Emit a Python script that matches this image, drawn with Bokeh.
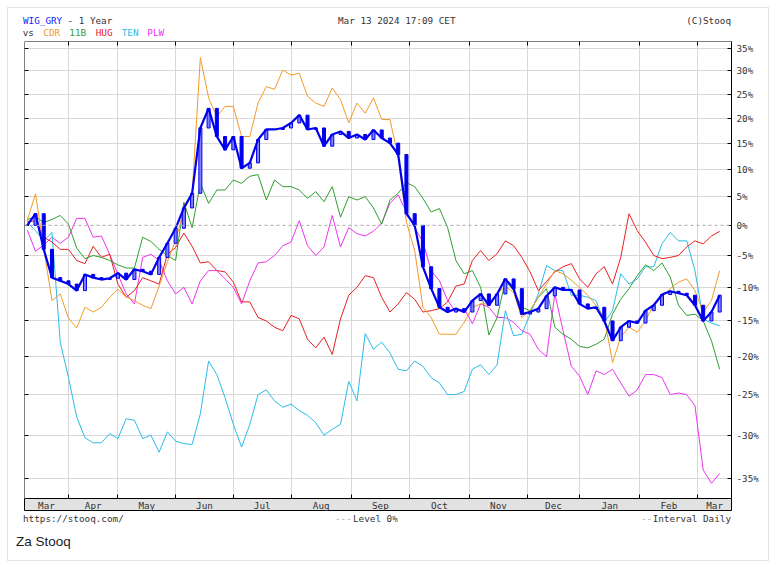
import numpy as np
from bokeh.plotting import figure
from bokeh.layouts import column
from bokeh.models import (FixedTicker, LinearAxis, LogAxis, Range1d, Span, Grid, Div,
                          CustomJSTickFormatter)
from bokeh.core.properties import value
from bokeh.embed import file_html
from bokeh.resources import INLINE

# ---------------- data ----------------
START = "2023-03-13"
END = "2024-03-13"
HOLIDAYS = ["2023-04-07", "2023-04-10", "2023-05-01", "2023-05-03", "2023-06-08",
            "2023-08-15", "2023-11-01", "2023-12-25", "2023-12-26", "2024-01-01"]
STEP = 3  # values below are read every third session

MONTHS = ["Mar", "Apr", "May", "Jun", "Jul", "Aug", "Sep", "Oct", "Nov", "Dec", "Jan", "Feb", "Mar"]
TICK_LEVELS = [-35, -30, -25, -20, -15, -10, -5, 0, 5, 10, 15, 20, 25, 30, 35]

# percent change vs. start
WIG_GRY = [0, 2, -4, -8.5, -9, -9.5, -10.5, -8, -8.5, -8.8, -8.6, -7.8, -8.8, -7.2, -7.5, -8,
           -5.3, -3, -0.5, 3, 5.6, 18, 22, 16.3, 13.7, 16.3, 10.2, 11.2, 15.7, 17.7, 17.7, 18,
           19, 20.6, 17.7, 18, 14.4, 16.7, 17.3, 16, 16.7, 15.7, 17.6, 16, 15, 12.8, 2, 0,
           -6.8, -10.2, -13, -13.7, -13.2, -13.7, -12, -11, -12.7, -11, -8.7, -10.2, -14, -13.7,
           -13.2, -11.3, -10, -10.4, -10.4, -12.5, -13.2, -13, -15, -17.8, -15.9, -15, -15.3,
           -13.5, -12.7, -11.1, -10.6, -10.9, -11.2, -12.7, -15, -13.7, -11.2]
CDR = [0.8, 5.5, -3.8, -12, -11, -14.6, -16, -13, -13.7, -13, -11.5, -10.3, -11.5, -12, -12.7,
       -13.2, -9.8, -6, -2.5, 2.6, 5.5, 33, 24.2, 20.3, 22.4, 22.4, 16.3, 16.3, 23.1, 26.6, 26,
       30.2, 29.1, 29.5, 24.5, 23.1, 22.4, 26.3, 23.8, 19, 23.1, 21, 24.2, 19.7, 19.7, 12.4, 0.5,
       -4.2, -13, -14.5, -16.9, -16.9, -16.9, -15.2, -13, -12.5, -12.5, -11, -9.8, -10.8, -14.5,
       -13.5, -11.5, -9.5, -7.4, -7.9, -8.9, -10, -11.2, -12.7, -14.5, -20.8, -17.3, -15.9,
       -16.6, -15, -12.5, -11.5, -10.2, -9.2, -8.7, -10.5, -13.7, -12, -7.4]
B11 = [1, 1.5, 0.5, 1, 1.7, 0.2, -3.8, -5.5, -5, -5.3, -5.8, -6.5, -7, -7, -2, -2.7, -4, -5,
       -5.8, 4, -0.4, 7.4, 3.8, 6.2, 6.2, 8, 7.4, 8.7, 9, 4.4, 8, 6.8, 6.8, 6.2, 4.7, 5.9, 4.1,
       6.8, 1.4, 5, 4.4, 5, 3, 0.2, 4.4, 5.6, 7.5, 6.8, 4.7, 2.3, 2.9, -0.4, -5.8, -7.9, -7.4,
       -10, -17, -14.5, -9, -10.5, -13, -13.5, -11.5, -10.2, -15.9, -16.9, -17.6, -18.6, -18.8,
       -18.3, -17.6, -14, -11.8, -10.2, -8.2, -6.5, -7.4, -6.2, -8.4, -12.7, -14.2, -14, -15,
       -17.8, -21.7]
HUG = [0.7, 0.7, -2, -2.8, -4, -4, -5.8, -6.3, -3.5, -5.3, -4.8, -9.5, -11.5, -10.5, -8.5, -9,
       -9.5, -4.8, -3.7, -1.3, -3.5, -6.2, -6, -7.4, -7.6, -9.2, -12.2, -12.2, -14.5, -15,
       -15.9, -16.4, -14.2, -14.7, -17.6, -18.8, -17.3, -19.7, -14.7, -11.2, -10, -8.2, -8.5,
       -11.5, -13.7, -12.5, -10.8, -11.8, -13.7, -13.5, -13.2, -12.2, -9.8, -9.5, -5.8, -4.2,
       -5.8, -4.7, -2.6, -3.4, -5.3, -7.6, -10.5, -9.1, -7.6, -6.8, -6.3, -8.7, -10, -7.9, -6.8,
       -9.5, -5.3, 2, -0.9, -2.8, -5, -5.5, -5.3, -5, -3.6, -2.6, -3.1, -1.8, -1]
TEN = [0.5, -0.9, -2.6, -1.2, -18, -22.8, -27.8, -30.3, -30.9, -30.9, -29.8, -30.4, -28, -28.2,
       -30.4, -30, -32, -29.6, -30.7, -31, -31.1, -27.4, -20.6, -22.4, -25.4, -28.7, -31.4,
       -28.7, -25, -24.4, -25.8, -26.6, -26.2, -27, -27.6, -28.5, -30, -29.3, -28.7, -23.3,
       -25.8, -16.8, -19, -18, -19.5, -21.7, -21.9, -20.6, -21.3, -22.8, -23.5, -25, -25, -24.6,
       -21.7, -21.1, -22.4, -21.1, -13.5, -17.1, -16.9, -14, -11, -6.6, -7.4, -7.4, -11.2,
       -11.2, -11.5, -12, -15.2, -13.5, -7.9, -9.5, -8.7, -6.8, -6.8, -3.1, -1.2, -2.6, -2.6,
       -7.4, -14.7, -15.3, -15.7]
PLW = [-0.8, -4.3, -3.3, -2, -3, -2, 1.2, 1.2, -2, -1.8, -4.8, -8, -11, -12.5, -5.3, -4.8,
       -5.8, -9, -11, -10, -12.5, -9, -7.4, -7.4, -8.7, -10, -12.5, -9, -6.2, -6, -5, -3.4,
       -2.8, 0.8, -3.4, -5, -3.6, 1.7, -3.6, -0.4, -1.4, -1.8, -1, 0.4, 3.8, 5.3, 2.3, -0.4,
       -2.8, -7.4, -9, -12, -13.7, -13.2, -15.4, -12.5, -13, -14.5, -14.5, -15.2, -16.4, -16.9,
       -19, -20, -11, -16.4, -21.3, -22.6, -25, -21.9, -22.4, -21.7, -23.5, -25.2, -24.4, -22.4,
       -22.4, -22.8, -25, -24.8, -25, -26.4, -34, -35.5, -34.4]

SERIES = [("PLW", PLW, "#ee33ee"), ("TEN", TEN, "#2bbbe8"), ("HUG", HUG, "#e8211f"),
          ("11B", B11, "#2e9f2e"), ("CDR", CDR, "#f29a2a")]
MAIN_NAME = "WIG_GRY"
MAIN_COLOR = "#0000ee"
MAIN_FILL = "#8080ff"

# ---------------- calendar ----------------
days = np.arange(np.datetime64(START), np.datetime64(END) + 1, dtype="datetime64[D]")
sessions = days[np.is_busday(days, holidays=np.array(HOLIDAYS, dtype="datetime64[D]"))]
n = len(sessions)
idx = np.arange(n)
xs = idx[::STEP]
mon = sessions.astype("datetime64[M]")
month_starts = [float(i) for i in idx[1:][mon[1:] != mon[:-1]]]

X0, X1 = -1.0, n - 1 + 4.3
bounds = [X0] + month_starts + [X1]
label_pos = [(a + b) / 2 for a, b in zip(bounds[:-1], bounds[1:])]

Y0, Y1 = 1 - 37.14 / 100, 1 + 36.68 / 100

MONO = "DejaVu Sans Mono"
FS = "9.3px"
TXT = "#333333"
GRID = "#d8d8d8"
W = 776

x_range = Range1d(X0, X1)

# ---------------- main chart ----------------
p = figure(width=W, height=457, x_range=x_range, y_range=Range1d(Y0, Y1),
           y_axis_type="log", x_axis_location=None, y_axis_location=None,
           toolbar_location=None, output_backend="svg", min_border_left=24,
           min_border_right=45, min_border_top=0, min_border_bottom=0,
           background_fill_color="white", border_fill_color=None,
           outline_line_color=None, margin=0)
p.grid.visible = False

levels = [1 + v / 100 for v in TICK_LEVELS]

yax = LogAxis(ticker=FixedTicker(ticks=levels),
              formatter=CustomJSTickFormatter(code="return Math.round((tick - 1) * 100) + '%';"),
              major_tick_in=4, major_tick_out=0, minor_tick_line_color=None,
              major_label_standoff=5, major_label_text_font=MONO,
              major_label_text_font_size=FS, major_label_text_color=TXT,
              axis_line_color="black", major_tick_line_color="black")
p.add_layout(yax, "right")

lax = LogAxis(ticker=FixedTicker(ticks=levels), fixed_location=X0, major_tick_in=4,
              major_tick_out=0, major_label_text_color=None, minor_tick_line_color=None,
              axis_line_color="black", major_tick_line_color="black")
p.add_layout(lax, "left")

tax = LinearAxis(ticker=FixedTicker(ticks=month_starts), fixed_location=Y1, major_tick_in=4,
                 major_tick_out=0, major_label_text_color=None, minor_tick_line_color=None,
                 axis_line_color="black", major_tick_line_color="black")
p.add_layout(tax, "above")

bax = LinearAxis(ticker=FixedTicker(ticks=month_starts), fixed_location=Y0, major_tick_in=4,
                 major_tick_out=0, major_label_text_color=None, minor_tick_line_color=None,
                 axis_line_color=None, major_tick_line_color="black")
p.add_layout(bax, "below")

p.add_layout(Grid(dimension=0, ticker=FixedTicker(ticks=month_starts), grid_line_color=GRID))
p.add_layout(Grid(dimension=1, ticker=FixedTicker(ticks=[l for l, v in zip(levels, TICK_LEVELS) if v != 0]),
                  grid_line_color=GRID))
p.add_layout(Span(location=1.0, dimension="width", line_color="#aaaaaa",
                  line_dash="3 3", line_width=1))

for name, vals, color in SERIES:
    p.line(xs, 1 + np.array(vals) / 100, line_color=color, line_width=1)

w = 1 + np.array(WIG_GRY) / 100
prev = np.concatenate([[w[0]], w[:-1]])
fills = [MAIN_FILL if a >= b else MAIN_COLOR for a, b in zip(w, prev)]
p.vbar(x=xs, bottom=np.minimum(prev, w), top=np.maximum(prev, w), width=1.1,
       fill_color=fills, line_color=MAIN_COLOR, line_width=1)
p.line(xs, w, line_color=MAIN_COLOR, line_width=2.2)

# ---------------- month band ----------------
band = figure(width=W, height=13, x_range=x_range, y_range=Range1d(0, 1),
              x_axis_location=None, y_axis_location=None, toolbar_location=None,
              output_backend="svg", min_border_left=24, min_border_right=45,
              min_border_top=0, min_border_bottom=0, background_fill_color="#e2e2e2",
              border_fill_color=None, outline_line_color="black", margin=0)
band.grid.visible = False
band.text(x=label_pos, y=[0.5] * len(label_pos), text=MONTHS, text_font=value(MONO),
          text_font_size=FS, text_color=TXT, text_align="center", text_baseline="middle")


# ---------------- header / footer texts ----------------
def span(text, X, top, color=TXT, align="left", font=MONO, size=9.3):
    pos = f"left:{X}px;" if align == "left" else f"right:{W - X}px;"
    return (f'<span style="position:absolute;{pos}top:{top}px;color:{color};'
            f'font-family:\'{font}\';font-size:{size}px;line-height:1;white-space:pre;">{text}</span>')


def box(h, inner):
    return (f'<div style="position:relative;width:{W}px;height:{h}px;overflow:hidden;">'
            f'{inner}</div>')


hdr = [span(MAIN_NAME, 23, 15.6, color="#2020ff"), span("- 1 Year", 67.5, 15.6),
       span("Mar 13 2024 17:09 CET", 338, 15.6), span("(C)Stooq", 731, 15.6, align="right"),
       span("vs", 22.7, 27.8)]
legend_x = [43.3, 69.3, 95.7, 121.7, 147.3]
for (name, vals, color), lx in zip(reversed(SERIES), legend_x):
    hdr.append(span(name, lx, 27.8, color=color))
header = Div(text=box(41, "".join(hdr)), width=W, height=41, margin=0)

ftr = [span("https://stooq.com/", 23, 2.8), span("---", 335, 2.8, color="#aaaaaa"),
       span("Level 0%", 353, 2.8), span("--", 641, 2.8, color="#aaaaaa"),
       span("Interval Daily", 731, 2.8, align="right"),
       span("Za Stooq", 16, 23.6, color="#222222", font="Liberation Sans", size=13.5)]
footer = Div(text=box(57, "".join(ftr)), width=W, height=57, margin=0)

page = column(header, p, band, footer, spacing=0, margin=0, width=W, height=568,
              styles={"background-color": "white", "outline": "1px solid #e2e2e2",
                      "outline-offset": "-8px"})

open("out.html", "w").write(file_html(page, INLINE))
